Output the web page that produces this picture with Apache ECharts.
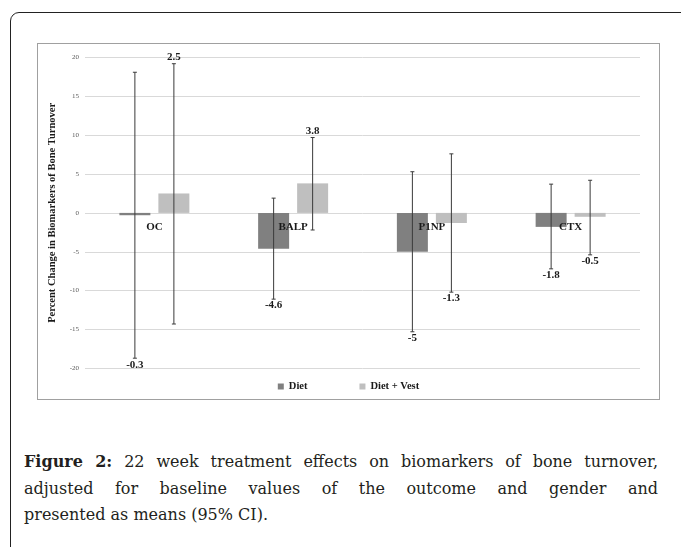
<!DOCTYPE html>
<html>
<head>
<meta charset="utf-8">
<script src="https://cdn.jsdelivr.net/npm/echarts@6/dist/echarts.min.js"></script>
<style>
  html, body { margin: 0; padding: 0; background: #fff; }
  body { width: 681px; height: 547px; position: relative; overflow: hidden; }
  #frame {
    position: absolute; left: 10px; top: 12px; width: 720px; height: 600px;
    border: 1.5px solid #222; border-radius: 9px; box-sizing: border-box;
  }
  #chart {
    position: absolute; left: 37px; top: 43px; width: 623px; height: 357px;
    border: 1px solid #a0a0a0; box-sizing: border-box;
  }
  #caption {
    position: absolute; left: 24px; top: 449px; width: 634px;
    font-family: "DejaVu Serif", serif; font-size: 16px; line-height: 26.5px; color: #231f20;
  }
  #caption .j { text-align: justify; text-align-last: justify; white-space: nowrap; }
  #caption b { font-weight: bold; }
</style>
</head>
<body>
<div id="frame"></div>
<div id="chart"></div>
<div id="caption">
  <div class="j"><b>Figure 2:</b> 22 week treatment effects on biomarkers of bone turnover,</div>
  <div class="j">adjusted for baseline values of the outcome and gender and</div>
  <div>presented as means (95% CI).</div>
</div>
<script>
const categories = ['OC', 'BALP', 'P1NP', 'CTX']
const seriesNames = ['Diet', 'Diet + Vest']
const dietMean = [-0.3, -4.6, -5, -1.8]
const vestMean = [2.5, 3.8, -1.3, -0.5]
const dietLow = [-18.7, -11.1, -15.3, -7.2]
const dietHigh = [18.1, 1.9, 5.3, 3.7]
const vestLow = [-14.3, -2.2, -10.2, -5.4]
const vestHigh = [19.2, 9.7, 7.6, 4.2]
const yMin = -20
const yMax = 20
const yStep = 5

const serif = '"Liberation Serif", "Times New Roman", serif'
const barW = 31
const barGapPx = 8
const textStyle = { fontFamily: serif, fontWeight: 'bold', fontSize: 11, fill: '#1a1a1a' }

const chart = echarts.init(document.getElementById('chart'))

// error bar + value label (and, once per category, the category name on the zero line)
function errorBars(sign, withCategory) {
  return function (params, api) {
    const idx = api.value(0)
    const zero = api.coord([idx, 0])
    const x = zero[0] + sign * (barW + barGapPx) / 2
    const lo = api.coord([idx, api.value(1)])[1]
    const hi = api.coord([idx, api.value(2)])[1]
    const mean = api.value(3)
    const stroke = { stroke: '#3a3a3a', lineWidth: 1 }
    const children = [
      { type: 'line', shape: { x1: x, y1: hi, x2: x, y2: lo }, style: stroke },
      { type: 'line', shape: { x1: x - 2, y1: hi, x2: x + 2, y2: hi }, style: stroke },
      { type: 'line', shape: { x1: x - 2, y1: lo, x2: x + 2, y2: lo }, style: stroke },
      {
        type: 'text',
        style: Object.assign({
          text: String(mean),
          x: x,
          y: mean >= 0 ? hi - 1 : lo + 1,
          align: 'center',
          verticalAlign: mean >= 0 ? 'bottom' : 'top'
        }, textStyle)
      }
    ]
    if (withCategory) {
      children.push({
        type: 'text',
        z2: 10,
        style: Object.assign({
          text: categories[idx],
          x: zero[0],
          y: zero[1] + 14,
          align: 'center',
          verticalAlign: 'middle'
        }, textStyle)
      })
    }
    return { type: 'group', children: children }
  }
}

const dietCI = categories.map((c, i) => [i, dietLow[i], dietHigh[i], dietMean[i]])
const vestCI = categories.map((c, i) => [i, vestLow[i], vestHigh[i], vestMean[i]])

chart.setOption({
  animation: false,
  backgroundColor: '#fff',
  grid: { left: 47, right: 19, top: 13.5, bottom: 30.7 },
  legend: {
    data: seriesNames,
    left: 'center',
    top: 332,
    icon: 'rect',
    itemWidth: 6,
    itemHeight: 6,
    itemGap: 52,
    textStyle: { fontFamily: serif, fontWeight: 'bold', fontSize: 10.5, color: '#1a1a1a' }
  },
  xAxis: {
    type: 'category',
    data: categories,
    axisLine: { show: false },
    axisTick: { show: false },
    axisLabel: { show: false }
  },
  yAxis: {
    type: 'value',
    min: yMin,
    max: yMax,
    interval: yStep,
    name: 'Percent Change in Biomarkers of Bone Turnover',
    nameLocation: 'middle',
    nameGap: 27,
    nameTextStyle: { fontFamily: serif, fontWeight: 'bold', fontSize: 10.5, color: '#1a1a1a' },
    axisLine: { show: false },
    axisTick: { show: false },
    axisLabel: { margin: 6, fontFamily: serif, fontSize: 7, color: '#595959' },
    splitLine: { lineStyle: { color: '#d9d9d9', width: 1 } }
  },
  series: [
    {
      name: 'Diet',
      type: 'bar',
      data: dietMean,
      barWidth: barW,
      barGap: (barGapPx / barW * 100).toFixed(1) + '%',
      itemStyle: { color: '#808080' }
    },
    {
      name: 'Diet + Vest',
      type: 'bar',
      data: vestMean,
      barWidth: barW,
      itemStyle: { color: '#bfbfbf' }
    },
    {
      name: 'Diet CI',
      type: 'custom',
      renderItem: errorBars(-1, false),
      data: dietCI,
      encode: { x: 0, y: [1, 2] },
      z: 5
    },
    {
      name: 'Vest CI',
      type: 'custom',
      renderItem: errorBars(1, true),
      data: vestCI,
      encode: { x: 0, y: [1, 2] },
      z: 6
    }
  ]
})
</script>
</body>
</html>
